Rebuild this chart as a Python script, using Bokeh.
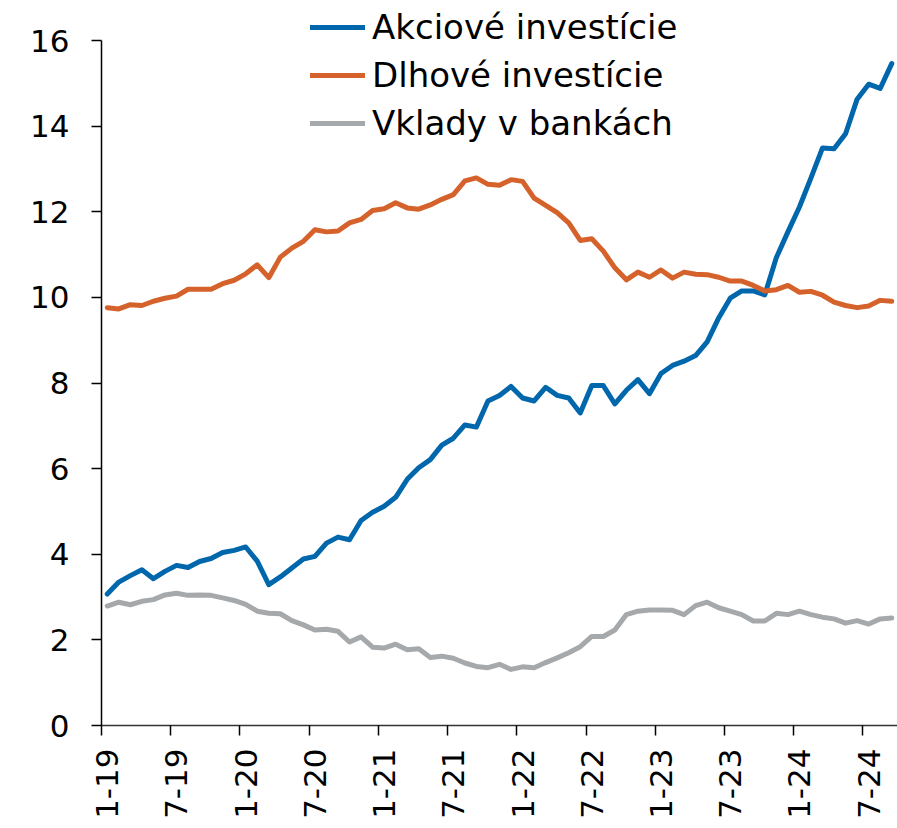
import math
from bokeh.plotting import figure
from bokeh.models import Range1d, FixedTicker, Legend, LegendItem
from bokeh.embed import file_html
from bokeh.resources import INLINE

# Monthly data, Jan 2019 .. Sep 2024
n_months = 69

akciove = [3.07, 3.35, 3.50, 3.64, 3.43, 3.60, 3.74, 3.69, 3.83, 3.90,
           4.04, 4.09, 4.17, 3.84, 3.29, 3.47, 3.68, 3.89, 3.95, 4.26,
           4.40, 4.34, 4.79, 4.98, 5.12, 5.33, 5.75, 6.02, 6.21, 6.55,
           6.71, 7.02, 6.97, 7.58, 7.71, 7.92, 7.65, 7.58, 7.90, 7.71,
           7.65, 7.30, 7.94, 7.94, 7.51, 7.83, 8.08, 7.75, 8.22, 8.41,
           8.51, 8.64, 8.96, 9.52, 9.98, 10.15, 10.15, 10.06, 10.93, 11.53,
           12.11, 12.79, 13.49, 13.47, 13.82, 14.63, 14.98, 14.88, 15.46]

dlhove = [9.76, 9.73, 9.83, 9.81, 9.91, 9.98, 10.03, 10.19, 10.19, 10.19,
          10.32, 10.40, 10.55, 10.76, 10.46, 10.94, 11.15, 11.31, 11.58, 11.53,
          11.55, 11.74, 11.82, 12.03, 12.07, 12.21, 12.09, 12.06, 12.16, 12.29,
          12.40, 12.72, 12.79, 12.64, 12.62, 12.75, 12.71, 12.32, 12.15, 11.98,
          11.74, 11.33, 11.37, 11.08, 10.69, 10.41, 10.59, 10.47, 10.64, 10.45,
          10.59, 10.54, 10.53, 10.47, 10.38, 10.38, 10.28, 10.15, 10.18, 10.28,
          10.12, 10.14, 10.05, 9.89, 9.81, 9.76, 9.80, 9.93, 9.91]

vklady = [2.79, 2.88, 2.82, 2.90, 2.94, 3.05, 3.09, 3.04, 3.05, 3.04,
          2.98, 2.92, 2.83, 2.67, 2.62, 2.61, 2.45, 2.35, 2.23, 2.25,
          2.20, 1.95, 2.07, 1.83, 1.81, 1.90, 1.77, 1.79, 1.59, 1.62,
          1.57, 1.46, 1.38, 1.35, 1.43, 1.31, 1.37, 1.35, 1.47, 1.58,
          1.70, 1.84, 2.08, 2.08, 2.23, 2.59, 2.67, 2.70, 2.70, 2.69,
          2.59, 2.80, 2.88, 2.75, 2.67, 2.59, 2.44, 2.44, 2.62, 2.59,
          2.67, 2.59, 2.53, 2.49, 2.39, 2.45, 2.37, 2.49, 2.51]

tick_labels = ["1-19", "7-19", "1-20", "7-20", "1-21", "7-21",
               "1-22", "7-22", "1-23", "7-23", "1-24", "7-24"]
y_ticks = [0, 2, 4, 6, 8, 10, 12, 14, 16]
y_min, y_max = 0, 16

series_names = ["Akciové investície", "Dlhové investície", "Vklady v bankách"]
series_colors = ["#0067AC", "#D5622B", "#A5A9AC"]

x = list(range(n_months))

FONT = "DejaVu Sans"

# layout (pixels)
W, H = 897, 828
left, bottom = 101, 103
frame_h = H - bottom              # frame reaches the top so the legend is not clipped
axis_top_px = 40                  # where the value 16 sits
y_top = y_max * frame_h / (frame_h - axis_top_px)

p = figure(width=W, height=H, output_backend="svg", toolbar_location=None,
           x_range=Range1d(-0.5, n_months - 0.5), y_range=Range1d(y_min, y_top),
           min_border_left=left, min_border_right=0, min_border_top=0,
           min_border_bottom=bottom)
p.outline_line_color = None
p.grid.visible = False
p.background_fill_color = "white"

renderers = []
for vals, col in zip([akciove, dlhove, vklady], series_colors):
    r = p.line(x, vals, line_color=col, line_width=5, line_join="round", line_cap="round")
    renderers.append(r)

# x axis: labels centred on categories, tick marks on category boundaries
major = [6 * k for k in range(len(tick_labels))]
minor = [6 * k - 0.5 for k in range(len(tick_labels))]
p.xaxis.ticker = FixedTicker(ticks=major, minor_ticks=minor)
p.xaxis.major_label_overrides = {t: lab for t, lab in zip(major, tick_labels)}
p.xaxis.major_label_orientation = math.pi / 2
p.xaxis.major_tick_line_color = None
p.xaxis.major_tick_out = 10
p.xaxis.major_tick_in = 0
p.xaxis.minor_tick_line_color = "black"
p.xaxis.minor_tick_line_width = 1.5
p.xaxis.minor_tick_out = 10
p.xaxis.minor_tick_in = 0
p.xaxis.major_label_standoff = 13
p.xaxis.axis_line_color = "#333333"
p.xaxis.axis_line_width = 1.5

p.yaxis.ticker = FixedTicker(ticks=y_ticks)
p.yaxis.bounds = (y_min, y_max)
p.yaxis.minor_tick_line_color = None
p.yaxis.major_tick_out = 10
p.yaxis.major_tick_in = 0
p.yaxis.major_tick_line_color = "black"
p.yaxis.major_tick_line_width = 1.5
p.yaxis.major_label_standoff = 22
p.yaxis.axis_line_color = "black"
p.yaxis.axis_line_width = 1.5

for ax in (p.xaxis, p.yaxis):
    ax.major_label_text_font = FONT
    ax.major_label_text_font_size = "31px"
    ax.major_label_text_color = "black"

legend = Legend(items=[LegendItem(label=n, renderers=[r]) for n, r in zip(series_names, renderers)],
                location=(209, 582))
legend.label_text_font = FONT
legend.label_text_font_size = "34px"
legend.label_text_color = "black"
legend.glyph_width = 55
legend.glyph_height = 40
legend.label_height = 40
legend.spacing = 8
legend.padding = 0
legend.margin = 0
legend.label_standoff = 7
legend.border_line_color = None
legend.background_fill_alpha = 0
p.add_layout(legend, "center")

open("out.html", "w").write(file_html(p, INLINE))
